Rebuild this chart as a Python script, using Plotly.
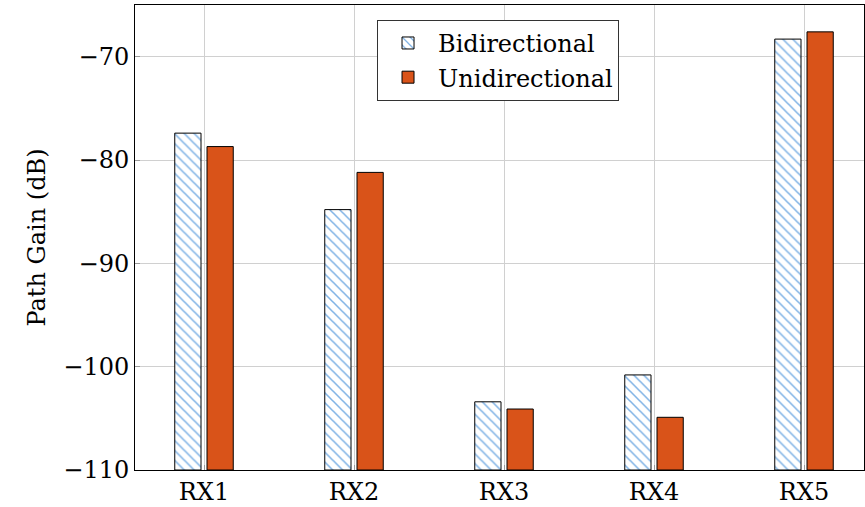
import plotly.graph_objects as go

categories = ["RX1", "RX2", "RX3", "RX4", "RX5"]
bidirectional = [-77.4, -84.8, -103.4, -100.8, -68.3]
unidirectional = [-78.7, -81.2, -104.1, -104.9, -67.6]
y_ticks = [-110, -100, -90, -80, -70]
y_tick_labels = ["\u2212110", "\u2212100", "\u221290", "\u221280", "\u221270"]

FONT = "'DejaVu Serif', 'Liberation Serif', serif"
x_pos = list(range(len(categories)))

fig = go.Figure()
fig.add_trace(go.Bar(
    x=x_pos, y=[v - (-110) for v in bidirectional], base=-110,
    name="Bidirectional", width=0.175, offset=-0.195,
    marker=dict(color="white", line=dict(color="black", width=1),
                pattern=dict(shape="\\", fgcolor="#0066cc", bgcolor="white",
                             size=7, solidity=0.22)),
))
fig.add_trace(go.Bar(
    x=x_pos, y=[v - (-110) for v in unidirectional], base=-110,
    name="Unidirectional", width=0.175, offset=0.02,
    marker=dict(color="#D95319", line=dict(color="black", width=1)),
))

fig.update_layout(
    width=865, height=507,
    margin=dict(l=135, r=1, t=5, b=37),
    paper_bgcolor="white", plot_bgcolor="white",
    font=dict(family=FONT, size=24, color="black"),
    showlegend=True,
    legend=dict(x=0.332, y=0.968, xanchor="left", yanchor="top",
                bordercolor="#333", borderwidth=1, bgcolor="white",
                font=dict(family=FONT, size=24), itemwidth=50,
                tracegroupgap=0),
    xaxis=dict(range=[-0.46, 4.4], tickvals=x_pos, ticktext=categories,
               showgrid=True, gridcolor="#d0d0d0", gridwidth=1,
               showline=True, linecolor="black", linewidth=1, mirror=True,
               ticks="inside", ticklen=5, tickcolor="#999", zeroline=False),
    yaxis=dict(range=[-110, -65], tickvals=y_ticks, ticktext=y_tick_labels,
               showgrid=True, gridcolor="#d0d0d0", gridwidth=1,
               showline=True, linecolor="black", linewidth=1, mirror=True,
               ticks="inside", ticklen=5, tickcolor="#999", zeroline=False,
               title=dict(text="Path Gain (dB)", standoff=10,
                          font=dict(family=FONT, size=24))),
)

fig.write_html("out.html")
